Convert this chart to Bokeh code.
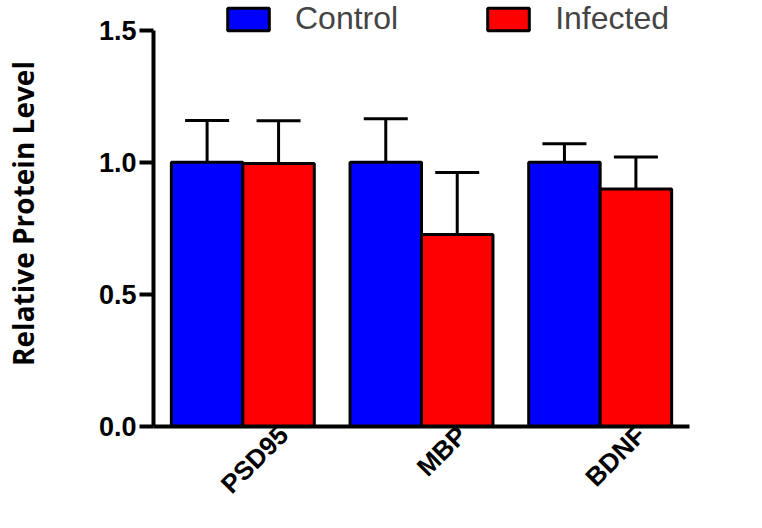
from bokeh.plotting import figure
from bokeh.models import (ColumnDataSource, Range1d, FixedTicker, Legend, LegendItem,
                          Whisker, TeeHead, NumeralTickFormatter)
from bokeh.embed import file_html
from bokeh.resources import INLINE
import math

# ---- data ----
categories = ["PSD95", "MBP", "BDNF"]
control = [1.0, 1.0, 1.0]
infected = [0.995, 0.727, 0.899]
control_err = [0.158, 0.165, 0.07]
infected_err = [0.162, 0.234, 0.121]
y_ticks = [0.0, 0.5, 1.0, 1.5]
series_names = ["Control", "Infected"]
y_title = "Relative Protein Level"

# ---- layout helpers ----
group_step = 2.5
bar_w = 1.0
first_offset = 0.75
label_shift = 0.57

xc = [first_offset + group_step * i for i in range(len(categories))]
xi = [x + bar_w for x in xc]
centers = [x + bar_w / 2 for x in xc]

src_c = ColumnDataSource(dict(x=xc, top=control, upper=[v + e for v, e in zip(control, control_err)]))
src_i = ColumnDataSource(dict(x=xi, top=infected, upper=[v + e for v, e in zip(infected, infected_err)]))

p = figure(width=746, height=512, output_backend="svg", toolbar_location=None,
           x_range=Range1d(0, group_step * len(categories)),
           y_range=Range1d(0, 1.612),
           min_border_left=146, min_border_right=57, min_border_top=0, min_border_bottom=0)
p.outline_line_color = None
p.grid.visible = False
p.background_fill_color = "white"
p.border_fill_color = "white"

rc = p.vbar(x="x", top="top", width=bar_w, bottom=0, source=src_c,
            fill_color="#0000FF", line_color="black", line_width=3)
ri = p.vbar(x="x", top="top", width=bar_w, bottom=0, source=src_i,
            fill_color="#FF0000", line_color="black", line_width=3)

for src in (src_c, src_i):
    w = Whisker(base="x", lower="top", upper="upper", source=src,
                upper_head=TeeHead(size=44, line_width=3, line_color="black"),
                lower_head=None, line_width=3, line_color="black")
    p.add_layout(w)

# y axis
ya = p.yaxis[0]
ya.ticker = FixedTicker(ticks=y_ticks)
ya.formatter = NumeralTickFormatter(format="0.0")
ya.bounds = (0, 1.5)
ya.axis_line_width = 4
ya.major_tick_line_width = 4
ya.major_tick_out = 14
ya.major_tick_in = 0
ya.minor_tick_line_color = None
ya.major_label_text_font = "Liberation Sans"
ya.major_label_text_font_style = "bold"
ya.major_label_text_font_size = "27px"
ya.major_label_text_color = "black"
ya.major_label_standoff = 3
ya.axis_label = y_title
ya.axis_label_text_font = "Open Sans"
ya.axis_label_text_font_style = "bold"
ya.axis_label_text_font_size = "28px"
ya.axis_label_text_color = "black"
ya.axis_label_standoff = 54

# x axis
xa = p.xaxis[0]
xa.ticker = FixedTicker(ticks=[c + label_shift for c in centers])
xa.major_label_overrides = {c + label_shift: n for c, n in zip(centers, categories)}
xa.major_label_orientation = math.pi / 4
xa.axis_line_width = 4
xa.major_tick_line_color = None
xa.major_tick_out = 0
xa.major_tick_in = 0
xa.minor_tick_line_color = None
xa.major_label_text_font = "Liberation Sans"
xa.major_label_text_font_style = "bold"
xa.major_label_text_font_size = "26px"
xa.major_label_text_color = "black"
xa.major_label_standoff = 4

legend = Legend(items=[LegendItem(label=series_names[0], renderers=[rc]),
                       LegendItem(label=series_names[1], renderers=[ri])],
                orientation="horizontal", location=(69, 389),
                glyph_width=52, glyph_height=28, label_height=26,
                label_standoff=21, spacing=84, padding=0, margin=0,
                label_text_font="Liberation Sans", label_text_font_size="32px",
                border_line_color=None, background_fill_alpha=0)
p.add_layout(legend)

open("out.html", "w").write(file_html(p, INLINE))
